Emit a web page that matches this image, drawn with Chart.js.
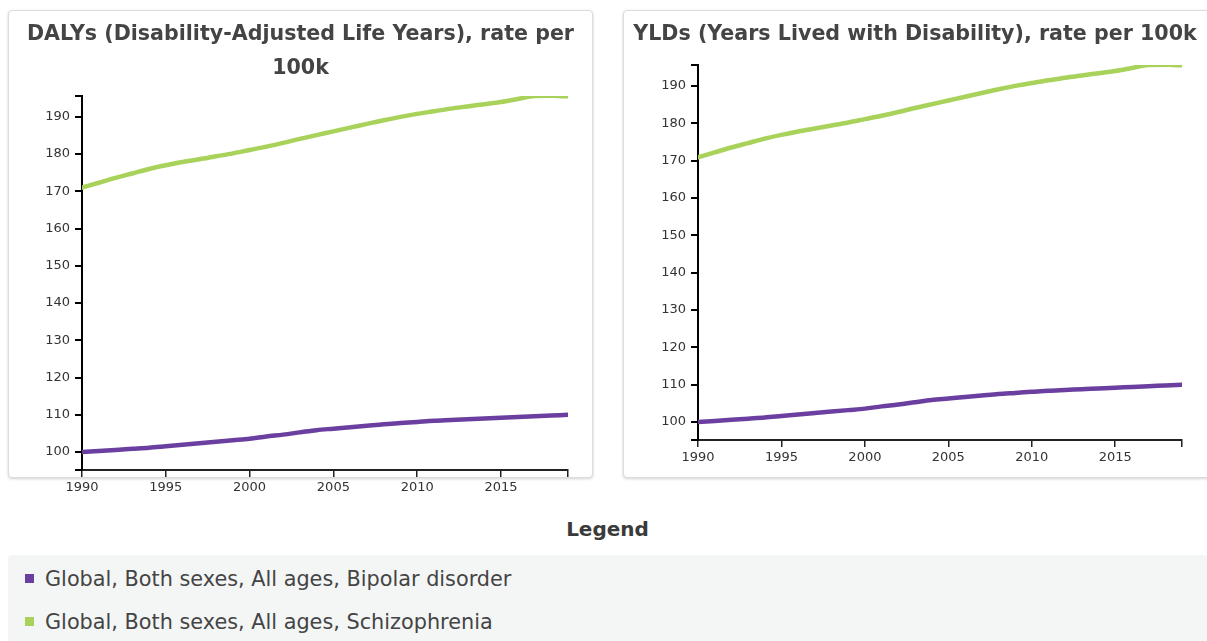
<!DOCTYPE html>
<html>
<head>
<meta charset="utf-8">
<script src="https://cdn.jsdelivr.net/npm/chart.js@4/dist/chart.umd.min.js"></script>
<style>
  html, body { margin: 0; padding: 0; background: #fff; }
  body { width: 1207px; height: 641px; position: relative; overflow: hidden; font-family: "DejaVu Sans", Verdana, sans-serif; }
  .card { position: absolute; top: 10px; height: 466px; border: 1px solid #dcdcdc; border-radius: 4px; box-shadow: 0 1px 3px rgba(0,0,0,0.18); background: #fff; }
  .wrap { position: absolute; top: 10px; }
  #legendTitle { position: absolute; left: 4px; width: 1207px; top: 517px; text-align: center; font-weight: bold; font-size: 20px; color: #3a3a3a; }
  #legendBox { position: absolute; left: 8px; top: 555px; width: 1199px; height: 90px; background: #f4f6f6; border-radius: 3px; }
  .item { position: absolute; left: 17px; font-size: 20.8px; color: #444; white-space: nowrap; }
  .item span { display: inline-block; width: 9px; height: 9px; margin-right: 11px; vertical-align: 3px; }
</style>
</head>
<body>
<div class="card" style="left:8px; width:583px;"></div>
<div class="card" style="left:623px; width:590px;"></div>
<div class="wrap" style="left:8px; width:585px; height:490px;"><canvas id="dalyChart"></canvas></div>
<div class="wrap" style="left:623px; width:584px; height:460px;"><canvas id="yldChart"></canvas></div>
<div id="legendTitle">Legend</div>
<div id="legendBox"></div>
<script>
// data
const years = [1990, 1991, 1992, 1993, 1994, 1995, 1996, 1997, 1998, 1999,
  2000, 2001, 2002, 2003, 2004, 2005, 2006, 2007, 2008, 2009,
  2010, 2011, 2012, 2013, 2014, 2015, 2016, 2017, 2018, 2019];

const dalyBipolar = [100.0, 100.3, 100.6, 100.9, 101.2, 101.6, 102.0, 102.4, 102.8, 103.2,
  103.6, 104.2, 104.7, 105.3, 105.9, 106.3, 106.7, 107.1, 107.5, 107.8,
  108.1, 108.4, 108.6, 108.8, 109.0, 109.2, 109.4, 109.6, 109.8, 110.0];
const dalySchizo = [171.0, 172.3, 173.6, 174.8, 176.0, 177.0, 177.9, 178.6, 179.4, 180.2,
  181.1, 182.0, 183.0, 184.1, 185.1, 186.1, 187.1, 188.1, 189.1, 190.0,
  190.8, 191.5, 192.2, 192.8, 193.4, 194.0, 194.8, 195.6, 195.7, 195.5];

const yldBipolar = [100.0, 100.3, 100.6, 100.9, 101.2, 101.6, 102.0, 102.4, 102.8, 103.2,
  103.6, 104.2, 104.7, 105.3, 105.9, 106.3, 106.7, 107.1, 107.5, 107.8,
  108.1, 108.4, 108.6, 108.8, 109.0, 109.2, 109.4, 109.6, 109.8, 110.0];
const yldSchizo = [170.9, 172.2, 173.5, 174.7, 175.9, 176.9, 177.8, 178.6, 179.4, 180.2,
  181.1, 182.0, 183.0, 184.1, 185.1, 186.1, 187.1, 188.1, 189.1, 190.0,
  190.8, 191.5, 192.2, 192.8, 193.4, 194.0, 194.8, 195.6, 195.7, 195.5];

const seriesNames = ['Global, Both sexes, All ages, Bipolar disorder', 'Global, Both sexes, All ages, Schizophrenia'];
const seriesColors = ['#6b3fa0', '#a9d25a'];

const yTicks = [100, 110, 120, 130, 140, 150, 160, 170, 180, 190];
const xTicks = [1990, 1995, 2000, 2005, 2010, 2015];

const Y_MIN = 95.2, Y_MAX = 195.6;
const FONT = '"DejaVu Sans", Verdana, sans-serif';

function toPoints(values) {
  return years.map((yr, i) => ({ x: yr, y: values[i] }));
}

function makeChart(id, title, bipolar, schizo, yWidth, rightGap, titlePad) {
  const ctx = document.getElementById(id);
  return new Chart(ctx, {
    type: 'line',
    data: {
      datasets: [
        { label: seriesNames[0], data: toPoints(bipolar), borderColor: seriesColors[0] },
        { label: seriesNames[1], data: toPoints(schizo), borderColor: seriesColors[1] }
      ]
    },
    options: {
      responsive: true,
      maintainAspectRatio: false,
      animation: false,
      layout: { padding: 0 },
      elements: {
        line: { borderWidth: 4.5, cubicInterpolationMode: 'monotone', fill: false, borderCapStyle: 'round', borderJoinStyle: 'round' },
        point: { radius: 0, hoverRadius: 0 }
      },
      plugins: {
        legend: { display: false },
        tooltip: { enabled: false },
        title: {
          display: true,
          text: title,
          color: '#444',
          font: { family: FONT, size: 20.6, weight: 'bold', lineHeight: 1.65 },
          padding: titlePad
        }
      },
      scales: {
        x: {
          type: 'linear',
          min: 1990,
          max: 2019,
          afterBuildTicks: s => { s.ticks = [...xTicks, 2019].map(v => ({ value: v })); },
          // keep the title centred on the card while the plot stops short of the right edge
          afterFit: s => { s.height = 30; s.paddingRight = rightGap; },
          border: { display: true, color: '#222', width: 2 },
          grid: { drawOnChartArea: false, drawTicks: true, tickLength: 7, color: '#222', lineWidth: 1.5 },
          ticks: {
            padding: 3,
            color: '#333',
            font: { family: FONT, size: 13 },
            maxRotation: 0,
            autoSkip: false,
            callback: v => xTicks.includes(v) ? String(v) : ''
          }
        },
        y: {
          min: Y_MIN,
          max: Y_MAX,
          afterBuildTicks: s => { s.ticks = [Y_MIN, ...yTicks, Y_MAX].map(v => ({ value: v })); },
          afterFit: s => { s.width = yWidth; },
          border: { display: true, color: '#000', width: 2 },
          grid: { drawOnChartArea: false, drawTicks: true, tickLength: 7, color: '#000', lineWidth: 2 },
          ticks: {
            padding: 5,
            color: '#333',
            font: { family: FONT, size: 13 },
            autoSkip: false,
            callback: v => yTicks.includes(v) ? String(v) : ''
          }
        }
      }
    }
  });
}

makeChart('dalyChart', ['DALYs (Disability-Adjusted Life Years), rate per', '100k'],
  dalyBipolar, dalySchizo, 74, 25, { top: 8, bottom: 10 });
makeChart('yldChart', 'YLDs (Years Lived with Disability), rate per 100k',
  yldBipolar, yldSchizo, 75, 25, { top: 8, bottom: 13 });

// shared legend below the two cards
const box = document.getElementById('legendBox');
seriesNames.forEach((name, i) => {
  const row = document.createElement('div');
  row.className = 'item';
  row.style.top = (i === 0 ? 12 : 55) + 'px';
  row.innerHTML = '<span style="background:' + seriesColors[i] + '"></span>' + name;
  box.appendChild(row);
});
</script>
</body>
</html>
